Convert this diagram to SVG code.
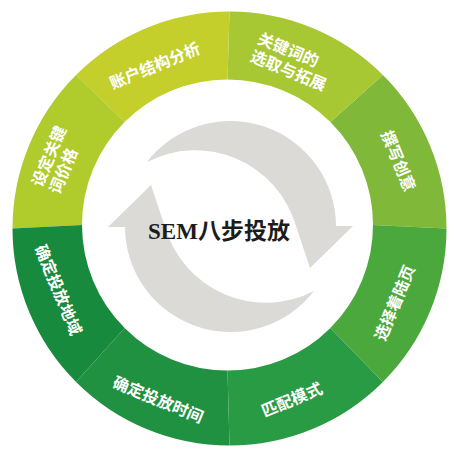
<svg xmlns="http://www.w3.org/2000/svg" width="461" height="457" viewBox="0 0 461 457">
<style>
.lbl{font-family:"Liberation Serif","Noto Sans CJK SC",serif;font-weight:bold;font-size:16px;fill:#ffffff}
.mid{text-anchor:middle}
.arr{fill:#dcdad7}
.title{font-family:"Liberation Serif","Noto Sans CJK SC",serif;font-weight:bold;font-size:23px;fill:#1c1c1c;text-anchor:middle}
</style>
<rect width="461" height="457" fill="#ffffff"/>
<g id="seg-zhuanxie">
<path d="M446.5,228.5 A217,217 0 0 0 382.94,75.06 L330.38,122.12 A145.5,145.5 0 0 1 373,225 Z" fill="#80b83a"/>
<text class="lbl mid" transform="translate(398,161) rotate(67.5)" y="5.5">撰写创意</text>
</g>
<g id="seg-guanjianci">
<path d="M382.94,75.06 A217,217 0 0 0 229.5,11.5 L227.5,79.5 A145.5,145.5 0 0 1 330.38,122.12 Z" fill="#a7c733"/>
<text class="lbl" transform="translate(292,62) rotate(22.5)"><tspan x="-40" y="-4">关键词的</tspan><tspan x="-40" y="15">选取与拓展</tspan></text>
</g>
<g id="seg-zhanghu">
<path d="M229.5,11.5 A217,217 0 0 0 76.06,75.06 L124.62,122.12 A145.5,145.5 0 0 1 227.5,79.5 Z" fill="#c4cf2c"/>
<text class="lbl mid" transform="translate(155,66) rotate(-22.5)" y="5.5">账户结构分析</text>
</g>
<g id="seg-jiage">
<path d="M76.06,75.06 A217,217 0 0 0 12.5,228.5 L82,225 A145.5,145.5 0 0 1 124.62,122.12 Z" fill="#b0cb2c"/>
<text class="lbl" transform="translate(58,160) rotate(-67.5)"><tspan x="-32" y="-4">设定关键</tspan><tspan x="-32" y="15">词价格</tspan></text>
</g>
<g id="seg-diyu">
<path d="M12.5,228.5 A217,217 0 0 0 76.06,381.94 L124.62,327.88 A145.5,145.5 0 0 1 82,225 Z" fill="#178a3d"/>
<text class="lbl mid" transform="translate(58,290) rotate(67.5)" y="5.5">确定投放地域</text>
</g>
<g id="seg-shijian">
<path d="M76.06,381.94 A217,217 0 0 0 229.5,445.5 L227.5,370.5 A145.5,145.5 0 0 1 124.62,327.88 Z" fill="#209140"/>
<text class="lbl mid" transform="translate(158,400) rotate(22.5)" y="5.5">确定投放时间</text>
</g>
<g id="seg-pipei">
<path d="M229.5,445.5 A217,217 0 0 0 382.94,381.94 L330.38,327.88 A145.5,145.5 0 0 1 227.5,370.5 Z" fill="#2a9b45"/>
<text class="lbl mid" transform="translate(292,400) rotate(-22.5)" y="5.5">匹配模式</text>
</g>
<g id="seg-zhuolu">
<path d="M382.94,381.94 A217,217 0 0 0 446.5,228.5 L373,225 A145.5,145.5 0 0 1 330.38,327.88 Z" fill="#4ba83d"/>
<text class="lbl mid" transform="translate(395,303) rotate(-67.5)" y="5.5">选择着陆页</text>
</g>
<g id="connectors">
<path id="arrow-top" class="arr" d="M147,162 A105.5,105.5 0 0 1 336,226 L353,226 L310,268 L296,226 A105,105 0 0 0 147,162 Z"/>
<path id="arrow-bottom" class="arr" d="M147,162 A105.5,105.5 0 0 1 336,226 L353,226 L310,268 L296,226 A105,105 0 0 0 147,162 Z" transform="rotate(180 230.5 226.5)"/>
</g>
<g id="center">
<text class="title" x="219" y="239">SEM八步投放</text>
</g>
</svg>
